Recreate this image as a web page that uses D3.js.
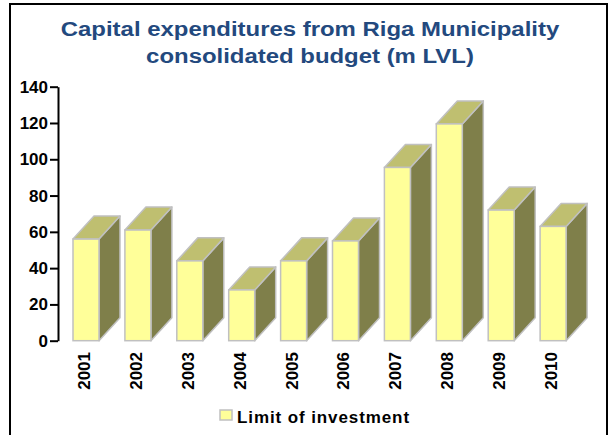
<!DOCTYPE html>
<html>
<head>
<meta charset="utf-8">
<script src="https://cdn.jsdelivr.net/npm/d3@7"></script>
<style>
    body { margin: 0; background: #fff; }
    svg { display: block; }
</style>
</head>
<body>
<div id="chart"></div>
<script>
const years = ["2001", "2002", "2003", "2004", "2005", "2006", "2007", "2008", "2009", "2010"];
const investment = [56, 61, 44, 28, 44, 55, 95.5, 119.5, 72, 63];
const yTicks = [0, 20, 40, 60, 80, 100, 120, 140];
const titleLines = ["Capital expenditures from Riga Municipality", "consolidated budget (m LVL)"];
const legendLabel = "Limit of investment";

const width = 610;
const height = 435;
const font = "'Liberation Sans', Arial, sans-serif";

const svg = d3.select("#chart")
    .append("svg")
    .attr("width", width)
    .attr("height", height);

// outer frame
svg.append("rect")
    .attr("x", 10)
    .attr("y", 4)
    .attr("width", 597)
    .attr("height", 445)
    .attr("fill", "none")
    .attr("stroke", "#000")
    .attr("stroke-width", 2);

// title (stretched a bit horizontally like the original)
svg.append("text")
    .attr("text-anchor", "middle")
    .attr("transform", "translate(310,0) scale(1.14,1)")
    .style("font-family", font)
    .style("font-weight", "bold")
    .style("font-size", "21px")
    .style("fill", "#23497e")
    .selectAll("tspan")
    .data(titleLines)
    .enter().append("tspan")
    .attr("x", 0)
    .attr("y", (d, i) => 36 + i * 27)
    .text(d => d);

const x = d3.scaleBand()
    .domain(years)
    .range([58, 577]);

const y = d3.scaleLinear()
    .domain([0, 140])
    .range([340.7, 86.7]);

const barW = 26;
const barOffset = 15;
const dx = 21;
const dy = 23;

// y axis
const yAxis = svg.append("g")
    .attr("transform", "translate(58,0)")
    .call(d3.axisLeft(y).tickValues(yTicks).tickSize(8).tickSizeOuter(0).tickPadding(2));

yAxis.select(".domain").attr("stroke", "#000").attr("stroke-width", 2);
yAxis.selectAll(".tick line").attr("stroke", "#000").attr("stroke-width", 2);
yAxis.selectAll(".tick text")
    .style("font-family", font)
    .style("font-weight", "bold")
    .style("font-size", "17px")
    .style("fill", "#000");

// 3d bars
const data = years.map((yr, i) => ({ year: yr, value: investment[i] }));

const bars = svg.append("g")
    .selectAll(".bar")
    .data(data)
    .enter().append("g")
    .attr("class", "bar");

const stroke = "#c0c0c0";

bars.append("polygon")
    .attr("points", d => {
        const x0 = x(d.year) + barOffset, x1 = x0 + barW;
        const yt = y(d.value), yb = y(0);
        return [[x1, yt], [x1 + dx, yt - dy], [x1 + dx, yb - dy], [x1, yb]].join(" ");
    })
    .attr("fill", "#7f7f4a")
    .attr("stroke", stroke)
    .attr("stroke-width", 1.5)
    .attr("stroke-linejoin", "round");

bars.append("polygon")
    .attr("points", d => {
        const x0 = x(d.year) + barOffset, x1 = x0 + barW;
        const yt = y(d.value);
        return [[x0, yt], [x0 + dx, yt - dy], [x1 + dx, yt - dy], [x1, yt]].join(" ");
    })
    .attr("fill", "#bfbf70")
    .attr("stroke", stroke)
    .attr("stroke-width", 1.5)
    .attr("stroke-linejoin", "round");

bars.append("rect")
    .attr("x", d => x(d.year) + barOffset)
    .attr("y", d => y(d.value))
    .attr("width", barW)
    .attr("height", d => y(0) - y(d.value))
    .attr("fill", "#ffff99")
    .attr("stroke", stroke)
    .attr("stroke-width", 1.5);

// year labels
svg.append("g")
    .selectAll("text")
    .data(years)
    .enter().append("text")
    .attr("transform", d => `translate(${x(d) + 26},352) rotate(-90)`)
    .attr("dy", "0.35em")
    .attr("text-anchor", "end")
    .style("font-family", font)
    .style("font-weight", "bold")
    .style("font-size", "17px")
    .text(d => d);

// legend
const legend = svg.append("g").attr("transform", "translate(220,410)");
legend.append("rect")
    .attr("width", 12)
    .attr("height", 10)
    .attr("fill", "#ffff99")
    .attr("stroke", stroke)
    .attr("stroke-width", 1.5);
legend.append("text")
    .attr("x", 17)
    .attr("y", 12.5)
    .style("font-family", font)
    .style("font-weight", "bold")
    .style("font-size", "17px")
    .style("letter-spacing", "0.9px")
    .text(legendLabel);
</script>
</body>
</html>
